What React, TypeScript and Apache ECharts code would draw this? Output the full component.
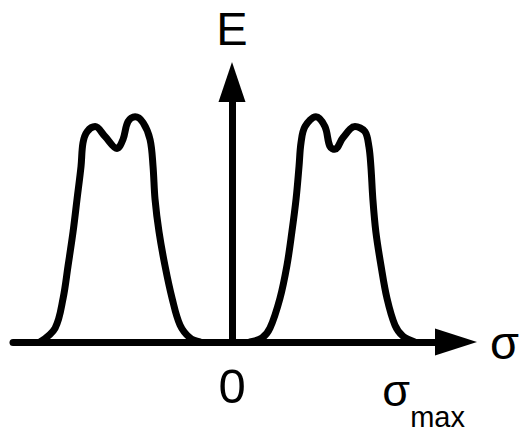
import { useEffect, useRef } from "react";
import * as echarts from "echarts";

// Left hump (negative σ)
const LEFT_SIGMA = [-1.157, -1.066, -1.018, -0.988, -0.958, -0.934, -0.91, -0.898, -0.873, -0.825, -0.765, -0.693, -0.657, -0.627, -0.584, -0.536, -0.494, -0.476, -0.464, -0.44, -0.404, -0.361, -0.313, -0.253, -0.193];
const LEFT_E = [0, 0.062, 0.194, 0.339, 0.489, 0.634, 0.78, 0.885, 0.934, 0.956, 0.912, 0.859, 0.899, 0.978, 1.0, 0.974, 0.899, 0.78, 0.634, 0.489, 0.339, 0.194, 0.075, 0.018, 0];

// Right hump (positive σ)
const RIGHT_SIGMA = [0.108, 0.181, 0.229, 0.289, 0.331, 0.361, 0.386, 0.404, 0.416, 0.44, 0.506, 0.56, 0.59, 0.62, 0.669, 0.741, 0.801, 0.825, 0.837, 0.849, 0.867, 0.898, 0.934, 0.982, 1.03, 1.102];
const RIGHT_E = [0, 0.018, 0.062, 0.194, 0.339, 0.489, 0.634, 0.78, 0.885, 0.956, 1.0, 0.956, 0.868, 0.855, 0.907, 0.956, 0.934, 0.868, 0.78, 0.634, 0.489, 0.339, 0.194, 0.075, 0.026, 0];

const TICK_VALUES = [0, 1.155];
const TICK_LABELS = ["0", "σ"];
const TICK_SUBS = ["", "max"];
const X_NAME = "σ";
const Y_NAME = "E";

const FONT = "'Liberation Sans', Arial, sans-serif";

export default function App() {
  const ref = useRef<HTMLDivElement>(null);
  useEffect(() => {
    const chart = echarts.init(ref.current!, null, { renderer: "svg" });
    const lineStyle = { color: "#000", width: 7, cap: "round", join: "round" };
    chart.setOption({
      animation: false,
      backgroundColor: "#fff",
      grid: { left: 13, right: 66, top: 82, bottom: 87 },
      xAxis: {
        type: "value",
        min: -1.32,
        max: 1.35,
        axisLine: {
          onZero: true,
          lineStyle: { color: "#000", width: 7 },
          symbol: ["none", "triangle"],
          symbolSize: [27, 42],
        },
        axisTick: { show: false },
        splitLine: { show: false },
        axisLabel: {
          customValues: TICK_VALUES,
          margin: 8,
          formatter: (v: number) => {
            const i = TICK_VALUES.findIndex((t) => Math.abs(t - v) < 1e-6);
            if (i < 0) return "";
            return TICK_SUBS[i] ? `{s|${TICK_LABELS[i]}}{m|${TICK_SUBS[i]}}` : `{n|${TICK_LABELS[i]}}`;
          },
          rich: {
            n: { fontFamily: FONT, fontSize: 49, lineHeight: 71, color: "#000" },
            s: { fontFamily: FONT, fontSize: 45, lineHeight: 81, color: "#000" },
            m: { fontFamily: FONT, fontSize: 29, lineHeight: 29, color: "#000", verticalAlign: "bottom" },
          },
        },
        name: X_NAME,
        nameLocation: "end",
        nameGap: 34,
        nameTextStyle: { fontFamily: FONT, fontSize: 47, color: "#000", padding: [20, 0, 0, 0] },
      },
      yAxis: {
        type: "value",
        min: 0,
        max: 1.154,
        axisLine: {
          onZero: true,
          lineStyle: { color: "#000", width: 7 },
          symbol: ["none", "triangle"],
          symbolSize: [27, 40],
        },
        axisTick: { show: false },
        splitLine: { show: false },
        axisLabel: { show: false },
        name: Y_NAME,
        nameLocation: "end",
        nameGap: 30,
        nameTextStyle: { fontFamily: FONT, fontSize: 47, color: "#000" },
      },
      series: [
        {
          type: "line",
          data: LEFT_SIGMA.map((s, i) => [s, LEFT_E[i]]),
          smooth: 0.35,
          showSymbol: false,
          clip: false,
          lineStyle,
        },
        {
          type: "line",
          data: RIGHT_SIGMA.map((s, i) => [s, RIGHT_E[i]]),
          smooth: 0.35,
          showSymbol: false,
          clip: false,
          lineStyle,
        },
      ],
    });
    return () => chart.dispose();
  }, []);
  return <div ref={ref} style={{ position: "fixed", left: 0, top: 0, width: 522, height: 431 }} />;
}
